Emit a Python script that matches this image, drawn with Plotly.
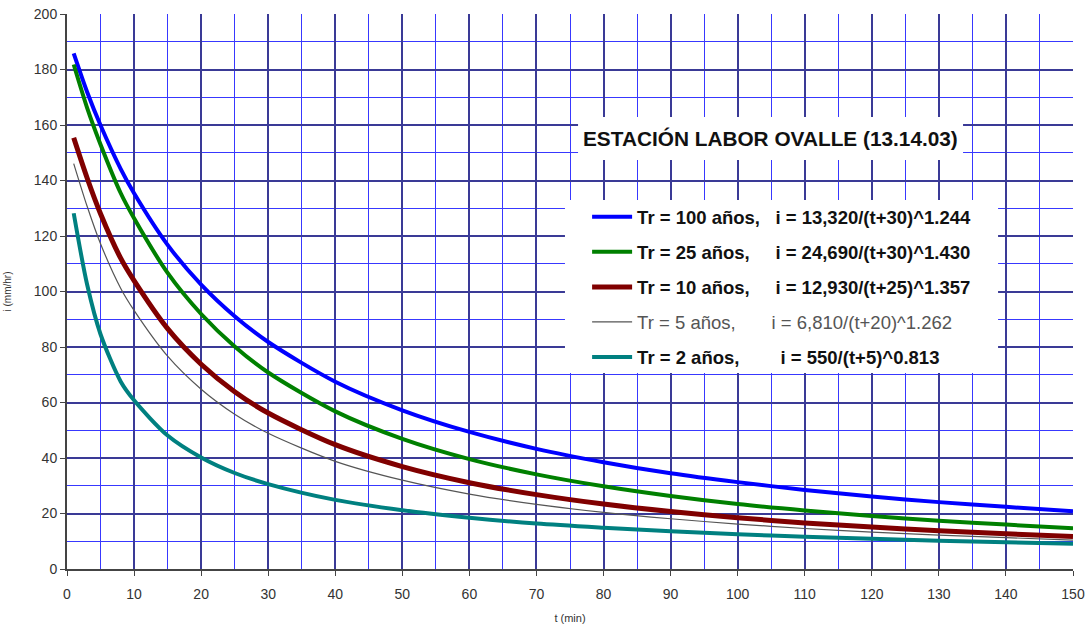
import plotly.graph_objects as go

# Duration (min)
t = [1, 3, 5, 8, 10, 15, 20, 25, 30, 40, 50, 60, 70, 80, 90, 100, 110, 120, 130, 140, 150]

# Intensity (mm/hr)
i_100 = [185.8, 171.9, 159.9, 144.2, 135.4, 116.8, 102.5, 91.1, 81.8, 67.5, 57.2, 49.4, 43.3, 38.5, 34.5, 31.3, 28.5, 26.1, 24.1, 22.4, 20.8]
i_25 = [181.8, 166.2, 153.0, 135.5, 126.4, 106.7, 91.9, 80.2, 70.8, 56.8, 46.9, 39.6, 34.1, 29.8, 26.3, 23.4, 21.1, 19.1, 17.4, 16.0, 14.7]
i_10 = [155.4, 140.9, 128.0, 112.0, 103.9, 86.6, 73.8, 63.9, 56.2, 44.8, 36.9, 31.1, 26.8, 23.4, 20.7, 18.5, 16.6, 15.1, 13.8, 12.7, 11.7]
i_5 = [146.1, 130.7, 117.2, 101.2, 93.2, 76.7, 64.8, 55.8, 48.9, 38.8, 32.0, 27.0, 23.3, 20.4, 18.1, 16.2, 14.6, 13.3, 12.2, 11.3, 10.4]
i_2 = [128.2, 102.5, 84.6, 67.6, 60.8, 48.1, 40.2, 34.6, 30.6, 24.9, 21.2, 18.5, 16.4, 14.9, 13.6, 12.5, 11.6, 10.9, 10.2, 9.6, 9.1]

NB = "\u00a0"
names = [
    "<b>Tr = 100 años," + NB * 3 + "i = 13,320/(t+30)^1.244</b>",
    "<b>Tr = 25 años," + NB * 5 + "i = 24,690/(t+30)^1.430</b>",
    "<b>Tr = 10 años," + NB * 5 + "i = 12,930/(t+25)^1.357</b>",
    "<span style='color:#555555'>Tr = 5 años," + NB * 7 + "i = 6,810/(t+20)^1.262</span>",
    "<b>Tr = 2 años," + NB * 8 + "i = 550/(t+5)^0.813</b>",
]
series = [i_100, i_25, i_10, i_5, i_2]
colors = ["#0000FF", "#008000", "#800000", "#555555", "#008080"]
widths = [4, 4, 5, 1.2, 4]

title_text = "<b>ESTACIÓN LABOR OVALLE (13.14.03)</b>"
x_ticks = list(range(0, 151, 10))
y_ticks = list(range(0, 201, 20))

fig = go.Figure()
for k, (name, ys, c, w) in enumerate(zip(names, series, colors, widths)):
    fig.add_trace(go.Scatter(
        x=t, y=ys, mode="lines", name=name,
        line=dict(color=c, width=w, shape="spline", smoothing=0.8),
        legendgroup=str(k),
    ))

# white panels behind the title and the legend (hide grid lines)
fig.add_shape(type="rect", xref="paper", yref="paper", x0=0.508, x1=0.8907, y0=0.737, y1=0.8144,
              fillcolor="white", line=dict(width=0), layer="above")
fig.add_shape(type="rect", xref="paper", yref="paper", x0=0.495, x1=0.9255, y0=0.353, y1=0.665,
              fillcolor="white", line=dict(width=0), layer="above")

fig.add_annotation(
    x=0.699, y=0.7757, xref="paper", yref="paper",
    text=title_text, showarrow=False,
    font=dict(family="Arial, Liberation Sans", size=20.8, color="#111111"),
    xanchor="center", yanchor="middle",
)

fig.update_layout(
    width=1089, height=624,
    margin=dict(l=67, r=16, t=14, b=55),
    paper_bgcolor="white", plot_bgcolor="white",
    font=dict(family="Arial, Liberation Sans", size=14, color="#333333"),
    legend=dict(
        x=0.517, y=0.668, xanchor="left", yanchor="top",
        bgcolor="rgba(0,0,0,0)", borderwidth=0,
        font=dict(family="Arial, Liberation Sans", size=18.5, color="#111111"),
        tracegroupgap=8, itemwidth=40,
    ),
    showlegend=True,
)

fig.update_xaxes(
    range=[0, 150], tickvals=x_ticks, ticks="outside", ticklen=5, automargin=False,
    tickcolor="#444444", showline=True, linecolor="#444444", linewidth=2,
    showgrid=True, gridcolor="#3a3a96", gridwidth=1.5, zeroline=False,
    ticklabelstandoff=6, ticklabeloverflow="allow",
    minor=dict(dtick=5, tick0=0, showgrid=True, gridcolor="#3838ff", gridwidth=1, ticks=""),
    title=dict(text="t (min)", font=dict(size=11, color="#333333"), standoff=19),
)
fig.update_yaxes(
    range=[0, 200], tickvals=y_ticks, ticks="outside", ticklen=5, automargin=False,
    tickcolor="#444444", showline=True, linecolor="#444444", linewidth=2,
    showgrid=True, gridcolor="#3a3a96", gridwidth=1.5, zeroline=False,
    ticklabeloverflow="allow",
    minor=dict(dtick=10, tick0=0, showgrid=True, gridcolor="#3838ff", gridwidth=1, ticks=""),
    title=dict(text="i (mm/hr)", font=dict(size=10, color="#333333"), standoff=20),
)

fig.write_html(
    "out.html",
    config={"displayModeBar": False},
    post_script="document.body.style.margin='0';document.body.style.overflow='hidden';",
)
